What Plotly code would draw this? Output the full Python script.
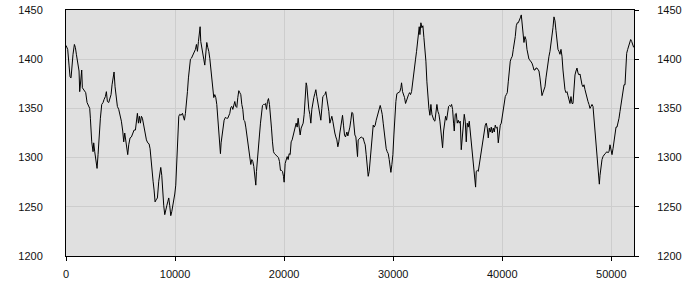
import plotly.graph_objects as go

# (distance, value) samples, grouped by stretch of the x axis
seg_a = [(0,1414),(156,1410),(278,1394),(370,1382),(462,1381),(523,1393),(645,1405),(768,1415),(859,1412),(951,1405),(1012,1400),(1104,1395),(1196,1388),(1257,1367),(1349,1379),(1440,1389),(1501,1371),(1624,1369),(1807,1366),(1930,1356),(2052,1352),(2174,1350),(2235,1340),(2358,1316),(2480,1306),(2541,1315),(2633,1306),(2755,1296),(2847,1289),(2939,1303),(3030,1321),(3153,1340),(3275,1354),(3397,1356),(3489,1359),(3611,1362),(3703,1367),(3795,1357),(3917,1356),(4040,1361),(4131,1364),(4223,1374),(4315,1381),(4407,1387),(4498,1372),(4590,1361),(4712,1352),(4835,1349),(4957,1344),(5079,1337),(5202,1327),(5293,1316),(5385,1325),(5477,1316),(5569,1306),(5660,1303),(5752,1313),(5874,1320),(5997,1321),(6119,1325),(6241,1328),(6364,1328),(6486,1340),(6547,1345),(6639,1335),(6731,1342),(6822,1335),(6914,1342),(7006,1340),(7128,1332),(7251,1325),(7373,1318),(7495,1315),(7617,1314),(7709,1309),(7801,1296),(7893,1282),(7984,1276),(8076,1267),(8168,1255),(8260,1257),(8382,1259)]

seg_b = [(8505,1276),(8596,1282),(8688,1290),(8780,1282),(8872,1262),(8963,1251),(9055,1242),(9147,1248),(9239,1251),(9330,1255),(9422,1259),(9514,1251),(9606,1241),(9697,1245),(9789,1250),(9881,1255),(9973,1263),(10064,1272),(10156,1300),(10248,1330),(10340,1342),(10431,1344),(10554,1343),(10676,1345),(10768,1342),(10859,1338),(10951,1345),(11043,1354),(11135,1367),(11226,1381),(11318,1396),(11410,1400),(11502,1401),(11593,1403),(11685,1405),(11777,1408),(11869,1410),(11960,1415),(12052,1408),(12144,1418),(12236,1425),(12297,1433),(12358,1418),(12450,1410),(12541,1405),(12633,1400),(12725,1394),(12817,1403),(12908,1417),(13000,1412),(13092,1408),(13183,1401),(13275,1391),(13367,1381),(13459,1364),(13550,1361),(13642,1364),(13734,1361),(13826,1354),(13917,1340),(14009,1327),(14101,1311),(14162,1304),(14223,1315),(14315,1323),(14407,1333),(14498,1338),(14621,1341),(14712,1340),(14835,1340),(14927,1342),(15018,1345),(15110,1351),(15202,1352),(15294,1349),(15385,1354),(15477,1357),(15569,1352),(15660,1351),(15752,1361),(15844,1368),(15936,1366),(16027,1364),(16119,1354),(16211,1349),(16303,1338),(16394,1337),(16486,1331),(16578,1323),(16670,1316),(16761,1309),(16853,1301),(16945,1293)]

seg_c = [(17036,1298),(17128,1296),(17219,1291),(17311,1284),(17403,1272),(17464,1286),(17556,1296),(17648,1309),(17739,1323),(17831,1335),(17923,1344),(18015,1353),(18106,1354),(18198,1354),(18290,1355),(18382,1349),(18473,1357),(18565,1360),(18657,1354),(18748,1344),(18840,1330),(18932,1316),(19024,1306),(19115,1304),(19207,1303),(19299,1303),(19391,1302),(19482,1300),(19574,1296),(19666,1287),(19758,1287),(19849,1286),(19941,1281),(20002,1275),(20094,1294),(20186,1298),(20277,1301),(20369,1298),(20461,1304),(20553,1303),(20644,1316),(20736,1318),(20828,1323),(20920,1328),(21011,1333),(21103,1335),(21195,1331),(21287,1340),(21378,1331),(21470,1323),(21562,1330),(21654,1333),(21745,1335),(21837,1344),(21929,1361),(22021,1376),(22082,1373),(22173,1357),(22265,1349),(22357,1344),(22449,1335),(22540,1349),(22632,1357),(22724,1361),(22816,1365),(22907,1369),(22999,1362),(23091,1355),(23183,1350),(23274,1344),(23366,1338),(23458,1350),(23550,1362),(23641,1363),(23733,1364),(23825,1367),(23917,1361),(24008,1354),(24100,1347),(24192,1335),(24283,1340),(24375,1342),(24467,1337),(24559,1328),(24650,1325),(24742,1321),(24834,1318),(24926,1311),(25017,1316),(25109,1325),(25201,1331),(25293,1340),(25354,1343),(25445,1333),(25537,1323),(25629,1321)]

seg_d = [(25752,1326),(25843,1322),(25935,1326),(26027,1331),(26119,1338),(26210,1346),(26302,1345),(26394,1333),(26486,1323),(26577,1321),(26669,1309),(26730,1301),(26791,1318),(26883,1319),(26975,1321),(27067,1321),(27158,1320),(27250,1320),(27342,1316),(27434,1313),(27525,1303),(27617,1291),(27709,1281),(27801,1286),(27892,1298),(27984,1315),(28076,1326),(28168,1333),(28259,1331),(28351,1333),(28443,1338),(28535,1342),(28626,1347),(28718,1350),(28810,1353),(28901,1349),(28993,1344),(29085,1335),(29177,1325),(29268,1316),(29360,1309),(29452,1306),(29544,1304),(29635,1298),(29727,1291),(29788,1285),(29880,1293),(29972,1303),(30064,1323),(30155,1344),(30247,1357),(30339,1365),(30430,1366),(30522,1366),(30614,1367),(30706,1371),(30767,1376),(30859,1367),(30950,1364),(31042,1361),(31134,1355),(31226,1359),(31317,1362),(31409,1364),(31501,1366),(31593,1364),(31684,1367),(31776,1374),(31868,1381),(31959,1391),(32051,1400),(32143,1408),(32235,1418),(32326,1427),(32388,1433),(32449,1425),(32541,1437),(32632,1432),(32724,1434),(32816,1422),(32907,1412),(32999,1398),(33091,1377),(33183,1357),(33274,1350),(33366,1343),(33458,1354),(33549,1344),(33641,1340),(33733,1338),(33825,1337),(33916,1347),(34008,1354),(34100,1347),(34192,1344)]

seg_e = [(34284,1337),(34376,1327),(34467,1313),(34529,1310),(34620,1327),(34712,1337),(34804,1342),(34896,1338),(34987,1347),(35079,1352),(35171,1353),(35263,1352),(35354,1354),(35446,1349),(35538,1335),(35599,1327),(35691,1344),(35782,1345),(35874,1335),(35966,1338),(36058,1335),(36149,1337),(36241,1308),(36333,1323),(36425,1335),(36516,1344),(36608,1337),(36700,1316),(36792,1335),(36883,1331),(36975,1337),(37067,1327),(37159,1316),(37250,1306),(37342,1293),(37434,1286),(37495,1277),(37556,1270),(37617,1286),(37709,1287),(37801,1286),(37892,1293),(37984,1301),(38076,1309),(38168,1315),(38259,1320),(38351,1328),(38443,1333),(38535,1335),(38626,1330),(38718,1320),(38810,1330),(38902,1326),(38993,1331),(39085,1325),(39177,1330),(39269,1326),(39360,1333),(39452,1330),(39544,1331),(39636,1315),(39727,1326),(39819,1333),(39911,1335),(40002,1342),(40094,1352),(40186,1357),(40278,1362),(40369,1364),(40461,1366),(40553,1377),(40645,1389),(40736,1398),(40828,1401),(40920,1403),(41012,1410),(41103,1415),(41195,1423),(41287,1434),(41379,1437),(41470,1437),(41562,1439),(41654,1442),(41746,1445),(41807,1437),(41898,1427),(41990,1417),(42082,1423),(42174,1420),(42266,1410),(42357,1403),(42449,1400),(42541,1399),(42632,1398),(42724,1396),(42816,1393),(42908,1389)]

seg_f = [(43000,1389),(43091,1391),(43183,1391),(43275,1390),(43367,1388),(43458,1381),(43550,1372),(43642,1363),(43734,1366),(43825,1369),(43917,1372),(44009,1381),(44100,1389),(44192,1398),(44284,1403),(44376,1408),(44467,1415),(44559,1422),(44651,1432),(44743,1443),(44834,1439),(44926,1429),(45018,1418),(45110,1410),(45201,1408),(45293,1405),(45385,1410),(45477,1403),(45568,1389),(45660,1377),(45752,1369),(45844,1366),(45935,1367),(46027,1363),(46119,1359),(46211,1355),(46302,1362),(46394,1355),(46486,1355),(46578,1371),(46669,1384),(46761,1388),(46853,1391),(46945,1386),(47036,1384),(47128,1385),(47220,1377),(47312,1374),(47403,1372),(47495,1374),(47587,1369),(47678,1364),(47770,1361),(47862,1357),(47954,1354),(48045,1350),(48137,1352),(48229,1354),(48321,1352),(48412,1340),(48504,1323),(48596,1309),(48688,1296),(48779,1286),(48840,1279),(48901,1273),(48963,1282),(49054,1293),(49146,1298),(49238,1301),(49330,1303),(49421,1304),(49513,1305),(49605,1306),(49697,1305),(49788,1306),(49880,1313),(49972,1305),(50064,1303),(50155,1309),(50247,1318),(50339,1325),(50431,1331),(50522,1331),(50614,1335),(50706,1340),(50797,1347),(50889,1354),(50981,1362),(51073,1371),(51164,1374),(51256,1374),(51348,1391),(51409,1406),(51501,1410),(51592,1413),(51684,1417),(51776,1420),(51868,1418),(51959,1415),(52051,1412)]

x_ticks = [0, 10000, 20000, 30000, 40000, 50000]
y_ticks = [1200, 1250, 1300, 1350, 1400, 1450]
x_range = [0, 52080]
y_range = [1200, 1450]

samples = seg_a + seg_b + seg_c + seg_d + seg_e + seg_f
xs = [p[0] for p in samples]
ys = [p[1] for p in samples]

font = dict(family="Liberation Sans, Arial, sans-serif", size=11, color="#111")
grid = "#cdcdcd"

fig = go.Figure()
fig.add_trace(go.Scatter(x=xs, y=ys, mode="lines", line=dict(color="black", width=1),
                         showlegend=False, hoverinfo="skip"))
fig.add_trace(go.Scatter(x=[xs[0]], y=[ys[0]], mode="lines", yaxis="y2", opacity=0,
                         showlegend=False, hoverinfo="skip"))

fig.update_layout(
    width=700, height=300,
    margin=dict(l=66, r=66, t=10, b=44, pad=0, autoexpand=False),
    paper_bgcolor="white",
    plot_bgcolor="#e0e0e0",
    font=font,
    xaxis=dict(range=x_range, tickvals=x_ticks, ticktext=[str(v) for v in x_ticks],
               showgrid=True, gridcolor=grid, gridwidth=1, zeroline=False,
               showline=True, linecolor="black", linewidth=1, mirror=True,
               ticks="outside", ticklen=4, tickcolor="black", tickfont=font,
               ticklabelstandoff=4, automargin=False),
    yaxis=dict(range=y_range, tickvals=y_ticks, showgrid=True, gridcolor=grid, gridwidth=1,
               zeroline=False, showline=True, linecolor="black", linewidth=1,
               ticks="", tickfont=font, ticklabelstandoff=20, automargin=False),
    yaxis2=dict(range=y_range, tickvals=y_ticks, overlaying="y", side="right",
                showgrid=False, zeroline=False, showline=True, linecolor="black", linewidth=1,
                ticks="outside", ticklen=4, tickcolor="black", tickfont=font,
                ticklabelstandoff=16, automargin=False),
)

fig.write_html("out.html")
